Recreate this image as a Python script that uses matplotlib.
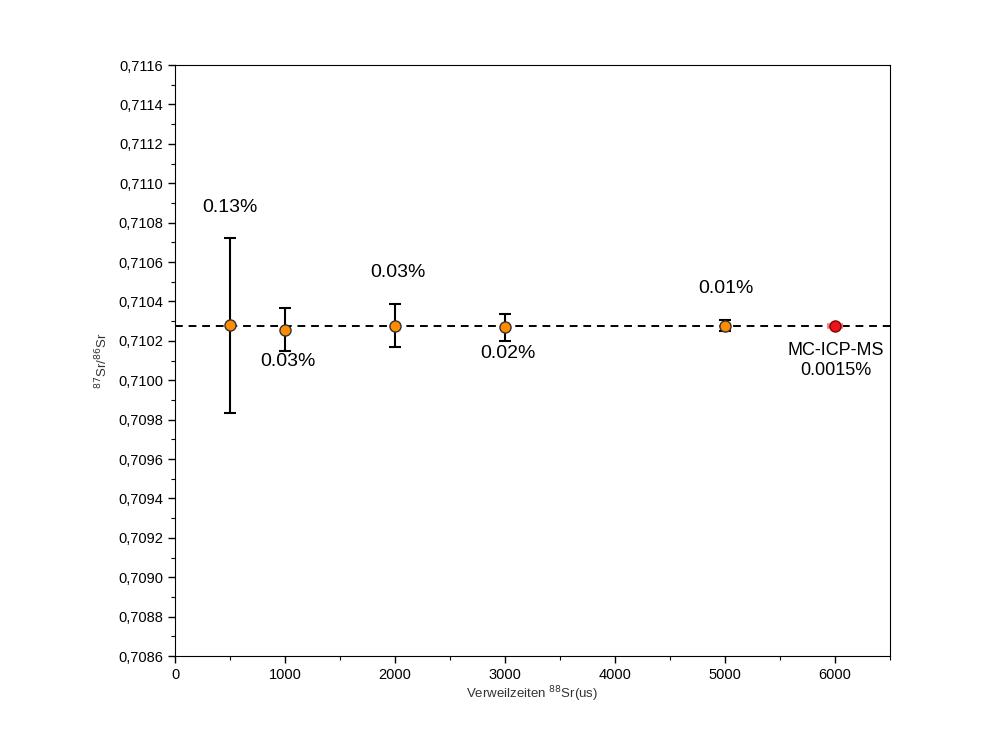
import numpy as np
import matplotlib.pyplot as plt
from matplotlib.ticker import MultipleLocator, FuncFormatter

# dwell times and 87Sr/86Sr ratios
dwell = [500, 1000, 2000, 3000, 5000]
ratio = [0.710278, 0.710257, 0.710277, 0.710268, 0.710277]
ratio_err = [0.000444, 0.000110, 0.000110, 0.000068, 0.000028]
rsd_labels = ['0.13%', '0.03%', '0.03%', '0.02%', '0.01%']
label_x = [500, 1030, 2030, 3030, 5010]
label_y = [0.710878, 0.710095, 0.710546, 0.710135, 0.710465]

mc_x = 6000
mc_ratio = 0.710276
mc_xerr = 70
mc_label = 'MC-ICP-MS\n0.0015%'
ref_value = 0.710276

plt.rcParams['font.family'] = ['Liberation Sans', 'DejaVu Sans']

fig = plt.figure(figsize=(10, 7.5), dpi=100)
ax = fig.add_axes([0.175, 0.1253, 0.715, 0.788])

ax.axhline(ref_value, color='black', linestyle=(0, (4, 3)), linewidth=1.4, zorder=1)
ax.errorbar(dwell, ratio, yerr=ratio_err, fmt='o', color='black', ecolor='black',
            markerfacecolor='#ff8c00', markeredgecolor='#333333', markersize=8,
            elinewidth=1.5, capsize=4, capthick=1.5, zorder=3)
ax.errorbar([mc_x], [mc_ratio], xerr=[mc_xerr], fmt='o', ecolor='#f08080',
            markerfacecolor='#e8141e', markeredgecolor='#8b0000', markersize=8,
            elinewidth=4, capsize=0, zorder=3)

for t, x, y in zip(rsd_labels, label_x, label_y):
    ax.text(x, y, t, ha='center', va='center', fontsize=14)
ax.text(6010, 0.710100, mc_label, ha='center', va='center', fontsize=13, linespacing=1.25)

ax.set_xlim(0, 6500)
ax.set_ylim(0.7086, 0.7116)
ax.xaxis.set_major_locator(MultipleLocator(1000))
ax.xaxis.set_minor_locator(MultipleLocator(500))
ax.yaxis.set_major_locator(MultipleLocator(0.0002))
ax.yaxis.set_minor_locator(MultipleLocator(0.0001))
ax.yaxis.set_major_formatter(FuncFormatter(lambda v, p: f'{v:.4f}'.replace('.', ',')))
ax.tick_params(which='major', length=5, width=1, labelsize=10.5)
ax.tick_params(which='minor', length=3, width=0.8)

ax.set_xlabel('Verweilzeiten $^{88}$Sr(us)', fontsize=9.5, color='#333333', labelpad=2)
ax.set_ylabel('$^{87}$Sr/$^{86}$Sr', fontsize=9.5, color='#333333', labelpad=6)

fig.savefig('out.png', dpi=100)
